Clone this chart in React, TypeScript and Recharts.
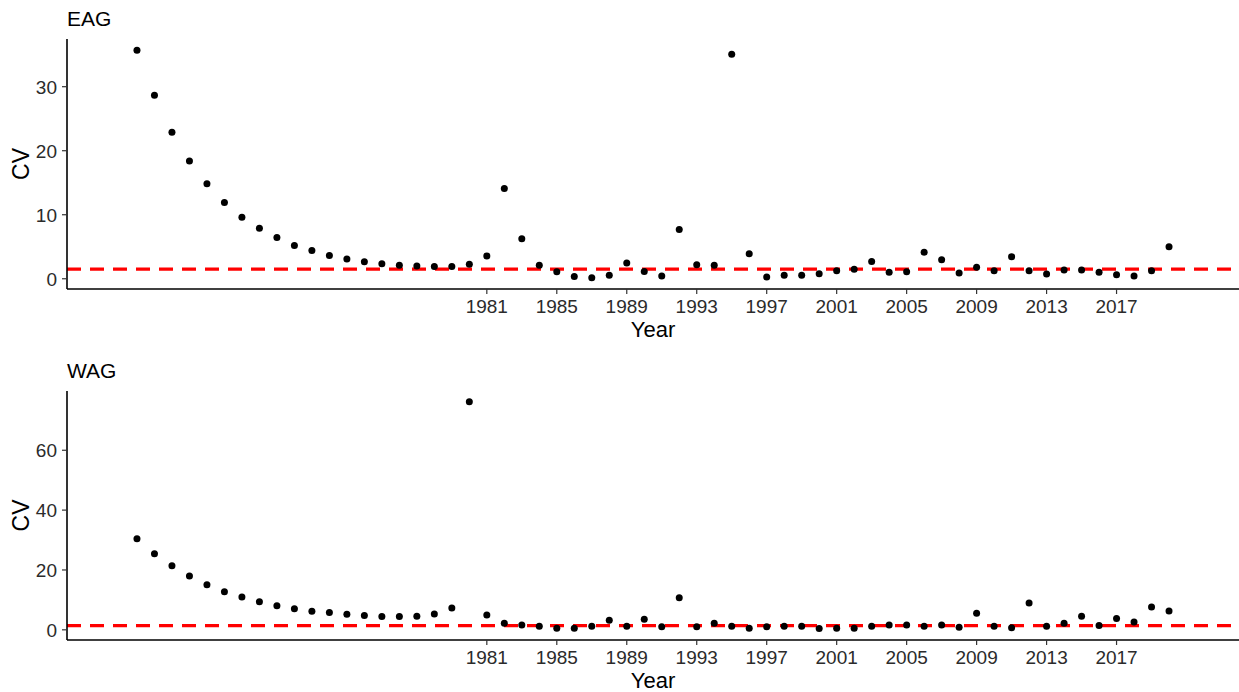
import { ScatterChart, Scatter, XAxis, YAxis, ReferenceLine } from "recharts";

// Survey years and the CV of each year's estimate, by area
const years = [
  1961, 1962, 1963, 1964, 1965, 1966, 1967, 1968, 1969, 1970,
  1971, 1972, 1973, 1974, 1975, 1976, 1977, 1978, 1979, 1980,
  1981, 1982, 1983, 1984, 1985, 1986, 1987, 1988, 1989, 1990,
  1991, 1992, 1993, 1994, 1995, 1996, 1997, 1998, 1999, 2000,
  2001, 2002, 2003, 2004, 2005, 2006, 2007, 2008, 2009, 2010,
  2011, 2012, 2013, 2014, 2015, 2016, 2017, 2018, 2019, 2020,
];

const eagCv = [
  35.7, 28.65, 22.9, 18.4, 14.85, 11.9, 9.6, 7.9, 6.45, 5.2,
  4.4, 3.65, 3.1, 2.65, 2.35, 2.1, 2.0, 1.9, 1.9, 2.25,
  3.55, 14.1, 6.25, 2.1, 1.1, 0.37, 0.16, 0.53, 2.45, 1.15,
  0.42, 7.7, 2.2, 2.1, 35.05, 3.9, 0.27, 0.53, 0.53, 0.79,
  1.25, 1.5, 2.7, 1.0, 1.1, 4.15, 2.95, 0.9, 1.8, 1.25,
  3.45, 1.25, 0.73, 1.36, 1.36, 1.0, 0.63, 0.42, 1.25, 5.0,
];

const wagCv = [
  30.4, 25.45, 21.4, 18.0, 15.05, 12.7, 10.95, 9.4, 8.07, 7.08,
  6.2, 5.75, 5.2, 4.75, 4.42, 4.42, 4.5, 5.3, 7.3, 76.2,
  4.97, 2.2, 1.65, 1.2, 0.55, 0.55, 1.2, 3.2, 1.2, 3.55,
  1.0, 10.7, 1.0, 2.2, 1.2, 0.55, 1.0, 1.2, 1.2, 0.45,
  0.55, 0.55, 1.2, 1.65, 1.65, 1.2, 1.65, 0.9, 5.55, 1.2,
  0.66, 8.95, 1.2, 2.2, 4.53, 1.42, 3.75, 2.65, 7.63, 6.3,
];

const yearTicks = [1981, 1985, 1989, 1993, 1997, 2001, 2005, 2009, 2013, 2017];
const eagTicks = [0, 10, 20, 30];
const wagTicks = [0, 20, 40, 60];

// threshold drawn as the dashed red line
const eagThreshold = 1.5;
const wagThreshold = 1.4;

const FONT = '"Liberation Sans", Arial, Helvetica, sans-serif';
const WIDTH = 1239;

const toRows = (values: number[]) => years.map((year, i) => ({ year, cv: values[i] }));

const XTick = ({ x, y, payload }: any) => (
  <text x={x} y={y + 17} textAnchor="middle" fontSize={19} fill="#2b2b2b">
    {payload.value}
  </text>
);

const YTick = ({ x, y, payload }: any) => (
  <text x={x} y={y} dy="0.36em" textAnchor="end" fontSize={19} fill="#2b2b2b">
    {payload.value}
  </text>
);

const Dot = ({ cx, cy }: any) => <circle cx={cx} cy={cy} r={3.5} fill="#000" />;

interface PanelProps {
  title: string;
  values: number[];
  yDomain: [number, number];
  yTicks: number[];
  threshold: number;
  top: number;
  xAxisHeight: number;
}

const Panel = ({ title, values, yDomain, yTicks, threshold, top, xAxisHeight }: PanelProps) => {
  const height = 346;
  const plotBottom = height - xAxisHeight;
  const midY = (top + plotBottom) / 2;

  return (
    <ScatterChart
      width={WIDTH}
      height={height}
      margin={{ top, right: 0, bottom: 0, left: 0 }}
      style={{ fontFamily: FONT }}
    >
      <text x={67} y={top - 13} fontSize={21} fill="#000">
        {title}
      </text>
      <XAxis
        type="number"
        dataKey="year"
        domain={[1957, 2024]}
        ticks={yearTicks}
        allowDataOverflow
        height={xAxisHeight}
        tick={<XTick />}
        tickSize={5}
        tickMargin={2}
        axisLine={{ stroke: "#000", strokeWidth: 1.6 }}
        tickLine={{ stroke: "#333", strokeWidth: 1.2 }}
        label={{
          content: ({ viewBox }: any) => (
            <text
              x={viewBox.x + viewBox.width / 2}
              y={viewBox.y + 48}
              textAnchor="middle"
              fontSize={22}
              fill="#000"
            >
              Year
            </text>
          ),
        }}
      />
      <YAxis
        type="number"
        dataKey="cv"
        domain={yDomain}
        ticks={yTicks}
        allowDataOverflow
        width={67}
        tick={<YTick />}
        tickSize={5}
        tickMargin={5}
        axisLine={{ stroke: "#000", strokeWidth: 1.6 }}
        tickLine={{ stroke: "#333", strokeWidth: 1.2 }}
        label={{
          content: () => (
            <text
              x={21}
              y={midY}
              transform={`rotate(-90 21 ${midY})`}
              textAnchor="middle"
              dominantBaseline="central"
              fontSize={23}
              fill="#000"
            >
              CV
            </text>
          ),
        }}
      />
      <ReferenceLine y={threshold} stroke="#FF0000" strokeWidth={3.2} strokeDasharray="14 9" />
      <Scatter data={toRows(values)} shape={<Dot />} isAnimationActive={false} />
    </ScatterChart>
  );
};

export default function App() {
  return (
    <div style={{ position: "absolute", left: 0, top: 0, width: WIDTH, background: "#fff", fontFamily: FONT }}>
      <Panel
        title="EAG"
        values={eagCv}
        yDomain={[-1.6, 37.45]}
        yTicks={eagTicks}
        threshold={eagThreshold}
        top={39}
        xAxisHeight={57}
      />
      <Panel
        title="WAG"
        values={wagCv}
        yDomain={[-3.4, 79.8]}
        yTicks={wagTicks}
        threshold={wagThreshold}
        top={45}
        xAxisHeight={52}
      />
    </div>
  );
}
